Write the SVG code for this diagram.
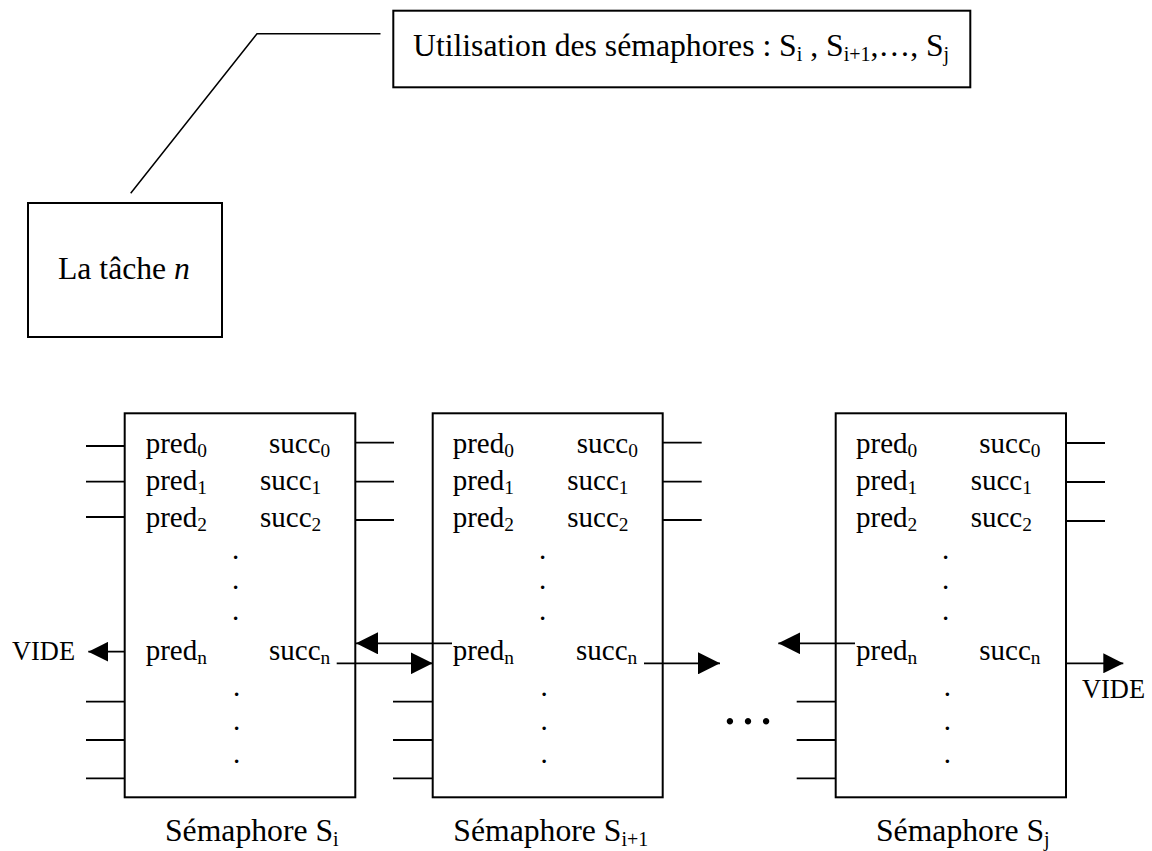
<svg xmlns="http://www.w3.org/2000/svg" width="1152" height="851" viewBox="0 0 1152 851">
  <style>
    text { font-family: "Liberation Serif", "Times New Roman", serif; fill: #000; }
    .lbl { font-size: 31.7px; }
    .slot { font-size: 29px; }
    .sub { font-size: 20px; }
    .ssub { font-size: 19.4px; }
    .vide { font-size: 26.4px; }
    .dot { font-size: 29px; text-anchor: middle; }
    .box { fill: #fff; stroke: #000; stroke-width: 2; }
    .stub { stroke: #000; stroke-width: 1.8; fill: none; }
    .wire { stroke: #000; stroke-width: 1.8; fill: none; }
    .lead { stroke: #000; stroke-width: 1.5; fill: none; }
  </style>
  <defs>
    <marker id="head" markerUnits="userSpaceOnUse" markerWidth="22" markerHeight="22" refX="22" refY="11" orient="auto">
      <path d="M0,0 L22,11 L0,22 z" fill="#000"/>
    </marker>
    <marker id="headSmall" markerUnits="userSpaceOnUse" markerWidth="20" markerHeight="20" refX="20" refY="10" orient="auto">
      <path d="M0,0 L20,10 L0,20 z" fill="#000"/>
    </marker>
  </defs>

  <rect width="1152" height="851" fill="#fff"/>

  <!-- semaphore list note -->
  <g id="usage">
    <rect class="box" x="393.3" y="10.7" width="577" height="76.6"/>
    <text class="lbl" x="413" y="56">Utilisation des sémaphores : S<tspan class="sub" dy="5">i</tspan><tspan dy="-5"> , S</tspan><tspan class="sub" dy="5">i+1</tspan><tspan dy="-5">,…, S</tspan><tspan class="sub" dy="5">j</tspan></text>
  </g>

  <!-- task -->
  <g id="task">
    <rect class="box" x="28" y="203" width="194" height="134"/>
    <text class="lbl" x="58" y="279">La tâche <tspan font-style="italic">n</tspan></text>
  </g>

  <!-- semaphore S_i -->
  <g id="sem-i">
    <rect class="box" x="124.7" y="413.3" width="230.6" height="384"/>
    <path class="stub" d="M86,446 H124.7 M86,481.7 H124.7 M86,517 H124.7 M86,701.7 H124.7 M86,740 H124.7 M86,778.3 H124.7 M355.3,442.7 H394 M355.3,481.7 H394 M355.3,520 H394"/>
    <text class="slot" x="145.7" y="453">pred<tspan class="ssub" dy="4">0</tspan></text>
    <text class="slot" x="145.7" y="490">pred<tspan class="ssub" dy="4">1</tspan></text>
    <text class="slot" x="145.7" y="527">pred<tspan class="ssub" dy="4">2</tspan></text>
    <text class="slot" x="269" y="453">succ<tspan class="ssub" dy="4">0</tspan></text>
    <text class="slot" x="260" y="490">succ<tspan class="ssub" dy="4">1</tspan></text>
    <text class="slot" x="260" y="527">succ<tspan class="ssub" dy="4">2</tspan></text>
    <text class="slot" x="145.7" y="660">pred<tspan class="ssub" dy="4">n</tspan></text>
    <text class="slot" x="269" y="660">succ<tspan class="ssub" dy="4">n</tspan></text>
    <text class="dot" x="235.5" y="558.6">.</text>
    <text class="dot" x="235.5" y="588.6">.</text>
    <text class="dot" x="235.5" y="619.6">.</text>
    <text class="dot" x="236.7" y="695.6">.</text>
    <text class="dot" x="236.7" y="729.6">.</text>
    <text class="dot" x="236.7" y="763.3">.</text>
    <text class="lbl" x="165" y="841">Sémaphore S<tspan class="sub" dy="5">i</tspan></text>
  </g>

  <!-- semaphore S_i+1 -->
  <g id="sem-i1">
    <rect class="box" x="432.7" y="413.3" width="230" height="384"/>
    <path class="stub" d="M393,701.7 H432.7 M393,740 H432.7 M393,778.3 H432.7 M662.7,442.7 H701.7 M662.7,481.7 H701.7 M662.7,520 H701.7"/>
    <text class="slot" x="452.7" y="453">pred<tspan class="ssub" dy="4">0</tspan></text>
    <text class="slot" x="452.7" y="490">pred<tspan class="ssub" dy="4">1</tspan></text>
    <text class="slot" x="452.7" y="527">pred<tspan class="ssub" dy="4">2</tspan></text>
    <text class="slot" x="576.7" y="453">succ<tspan class="ssub" dy="4">0</tspan></text>
    <text class="slot" x="567.3" y="490">succ<tspan class="ssub" dy="4">1</tspan></text>
    <text class="slot" x="567.3" y="527">succ<tspan class="ssub" dy="4">2</tspan></text>
    <text class="slot" x="452.7" y="660">pred<tspan class="ssub" dy="4">n</tspan></text>
    <text class="slot" x="576" y="660">succ<tspan class="ssub" dy="4">n</tspan></text>
    <text class="dot" x="542.7" y="558.6">.</text>
    <text class="dot" x="542.7" y="588.6">.</text>
    <text class="dot" x="542.7" y="619.6">.</text>
    <text class="dot" x="544" y="695.6">.</text>
    <text class="dot" x="544" y="729.6">.</text>
    <text class="dot" x="544" y="763.3">.</text>
    <text class="lbl" x="453.3" y="841">Sémaphore S<tspan class="sub" dy="5">i+1</tspan></text>
  </g>

  <!-- gap between the two chains -->
  <g id="gap">
    <text x="748" y="724" font-size="54" text-anchor="middle">…</text>
  </g>

  <!-- semaphore S_j -->
  <g id="sem-j">
    <rect class="box" x="835.7" y="413.3" width="230.3" height="384"/>
    <path class="stub" d="M796.7,701.7 H835.7 M796.7,740 H835.7 M796.7,778.3 H835.7 M1066,443 H1105 M1066,482 H1105 M1066,521 H1105"/>
    <text class="slot" x="856" y="453">pred<tspan class="ssub" dy="4">0</tspan></text>
    <text class="slot" x="856" y="490">pred<tspan class="ssub" dy="4">1</tspan></text>
    <text class="slot" x="856" y="527">pred<tspan class="ssub" dy="4">2</tspan></text>
    <text class="slot" x="979.3" y="453">succ<tspan class="ssub" dy="4">0</tspan></text>
    <text class="slot" x="970.7" y="490">succ<tspan class="ssub" dy="4">1</tspan></text>
    <text class="slot" x="970.7" y="527">succ<tspan class="ssub" dy="4">2</tspan></text>
    <text class="slot" x="856" y="660">pred<tspan class="ssub" dy="4">n</tspan></text>
    <text class="slot" x="979.3" y="660">succ<tspan class="ssub" dy="4">n</tspan></text>
    <text class="dot" x="945.7" y="558.6">.</text>
    <text class="dot" x="945.7" y="588.6">.</text>
    <text class="dot" x="945.7" y="619.6">.</text>
    <text class="dot" x="947.3" y="695.6">.</text>
    <text class="dot" x="947.3" y="729.6">.</text>
    <text class="dot" x="947.3" y="763.3">.</text>
    <text class="lbl" x="876" y="841">Sémaphore S<tspan class="sub" dy="5">j</tspan></text>
  </g>

  <!-- end-of-chain markers -->
  <g id="vide-left">
    <text class="vide" x="12" y="660">VIDE</text>
  </g>
  <g id="vide-right">
    <text class="vide" x="1082" y="698">VIDE</text>
  </g>

  <!-- links -->
  <g id="connectors">
    <polyline class="lead" points="380.5,33.7 257,33.7 130.7,193.3"/>
    <line class="wire" x1="124.7" y1="651.7" x2="88.3" y2="651.7" marker-end="url(#headSmall)"/>
    <line class="wire" x1="452" y1="643.3" x2="356" y2="643.3" marker-end="url(#head)"/>
    <line class="wire" x1="336.7" y1="663.3" x2="432.7" y2="663.3" marker-end="url(#head)"/>
    <line class="wire" x1="644" y1="663.3" x2="720" y2="663.3" marker-end="url(#head)"/>
    <line class="wire" x1="855" y1="643.3" x2="778.3" y2="643.3" marker-end="url(#head)"/>
    <line class="wire" x1="1066" y1="663.3" x2="1123.3" y2="663.3" marker-end="url(#headSmall)"/>
  </g>
</svg>
